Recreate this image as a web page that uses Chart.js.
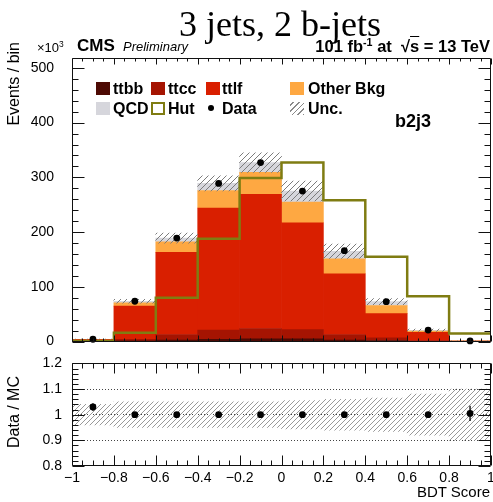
<!DOCTYPE html>
<html>
<head>
<meta charset="utf-8">
<script src="https://cdn.jsdelivr.net/npm/chart.js@4.4.1/dist/chart.umd.min.js"></script>
<style>
  html, body { margin: 0; padding: 0; background: #fff; overflow: hidden; width: 493px; height: 502px; }
  #wrap { position: relative; width: 493px; height: 502px; font-family: "Liberation Sans", Arial, sans-serif; color: #000; }
  #wrap canvas { position: absolute; left: 0; }
  .t { position: absolute; white-space: nowrap; line-height: 1; }
  .b { font-weight: bold; }
  .lg { font-weight: bold; font-size: 16px; }
  .box { position: absolute; width: 14px; height: 13px; box-sizing: border-box; }
  sup { font-size: 0.65em; line-height: 0; vertical-align: 0.55em; }
</style>
</head>
<body>
<div id="wrap">
  <canvas id="mainChart" width="505" height="360" style="top:0"></canvas>
  <canvas id="ratioChart" width="505" height="157" style="top:345px"></canvas>

  <div class="t" style="left:0;width:560px;text-align:center;top:6px;font-family:'Liberation Serif',serif;font-size:36px">3 jets, 2 b-jets</div>
  <div class="t" style="left:37px;top:41px;font-size:13px">&times;10<sup>3</sup></div>
  <div class="t b" style="left:77px;top:37px;font-size:17px">CMS</div>
  <div class="t" style="left:123px;top:40px;font-size:13px;font-style:italic">Preliminary</div>
  <div class="t b" style="right:3px;top:38px;font-size:16.5px">101 fb<sup>-1</sup> at &nbsp;&radic;<span style="text-decoration:overline">s</span> = 13 TeV</div>

  <!-- legend, two rows of four entries -->
  <div class="box" style="left:96px;top:82px;background:#4d0a04"></div>
  <div class="t lg" style="left:113px;top:81px">ttbb</div>
  <div class="box" style="left:151px;top:82px;background:#a51402"></div>
  <div class="t lg" style="left:168px;top:81px">ttcc</div>
  <div class="box" style="left:206px;top:82px;background:#d91f00"></div>
  <div class="t lg" style="left:222px;top:81px">ttlf</div>
  <div class="box" style="left:290px;top:82px;background:#fea842"></div>
  <div class="t lg" style="left:308px;top:81px">Other Bkg</div>

  <div class="box" style="left:96px;top:102px;background:#d6d6dc"></div>
  <div class="t lg" style="left:113px;top:101px">QCD</div>
  <div class="box" style="left:151px;top:102px;border:2px solid #7f7c12"></div>
  <div class="t lg" style="left:168px;top:101px">Hut</div>
  <div style="position:absolute;left:208px;top:105px;width:6px;height:6px;border-radius:3px;background:#000"></div>
  <div class="t lg" style="left:222px;top:101px">Data</div>
  <div class="box" style="left:290px;top:102px;background:repeating-linear-gradient(-45deg,#8a8a8a 0 1px,transparent 1px 4px)"></div>
  <div class="t lg" style="left:308px;top:101px">Unc.</div>

  <div class="t b" style="left:395px;top:112px;font-size:18px">b2j3</div>

  <div class="t" style="left:-86px;top:134px;width:200px;height:16px;font-size:16px;text-align:right;transform:rotate(-90deg)">Events / bin</div>
  <div class="t" style="left:-86px;top:404px;width:200px;height:16px;font-size:16px;text-align:center;transform:rotate(-90deg)">Data / MC</div>
  <div class="t" style="right:3px;top:484px;font-size:15px">BDT Score</div>
</div>

<script>
// bin edges of the BDT score histogram
const binEdges = [-1, -0.8, -0.6, -0.4, -0.2, 0, 0.2, 0.4, 0.6, 0.8, 1];

// stacked backgrounds (events per bin)
const ttbb = [0.2, 1.5, 3, 4, 5, 5, 3, 2, 0.5, 0.05];
const ttcc = [0.6, 2.5, 10, 17, 19, 17, 10, 5, 1.5, 0.15];
const ttlf = [2.8, 60.7, 150, 223, 245, 195, 111, 44, 15, 0.8];
const otherBkg = [0.4, 5.9, 19.4, 32, 40, 38, 27, 15, 2.3, 0.2];
const qcd = [0.2, 3, 6.6, 13, 18, 20, 14, 7, 1.5, 0.1];
const mcUnc = [0.3, 3.5, 9, 14, 18, 18, 13, 5.5, 2.2, 0.2];

// signal shape and observed data
const hut = [1, 16, 80, 188, 299, 327, 258, 155, 83, 15];
const data = [4.3, 73.7, 189, 289, 327, 275, 166, 73, 21, 1.3];

// lower panel
const ratio = [1.03, 1.0, 1.0, 1.0, 1.0, 1.0, 1.0, 1.0, 1.0, 1.005];
const ratioErr = [0.015, 0.003, 0.002, 0.002, 0.002, 0.002, 0.003, 0.004, 0.008, 0.03];
const ratioUnc = [0.04, 0.05, 0.05, 0.05, 0.05, 0.055, 0.06, 0.065, 0.08, 0.1];

const yTicks = [0, 100, 200, 300, 400, 500];
const ratioTicks = [0.8, 0.9, 1, 1.1, 1.2];

const binCenters = binEdges.slice(0, -1).map((e, i) => (e + binEdges[i + 1]) / 2);
const atCenters = arr => arr.map((v, i) => ({ x: binCenters[i], y: v }));

const colors = {
  ttbb: "#4d0a04",
  ttcc: "#a51402",
  ttlf: "#d91f00",
  other: "#fea842",
  qcd: "#d6d6dc",
  hut: "#7f7c12",
};

// "///" hatching used for the uncertainty bands
function hatchPattern(step, color) {
  const c = document.createElement("canvas");
  c.width = step;
  c.height = step;
  const g = c.getContext("2d");
  g.strokeStyle = color;
  g.lineWidth = 1;
  g.beginPath();
  g.moveTo(0, step); g.lineTo(step, 0);
  g.moveTo(-1, 1); g.lineTo(1, -1);
  g.moveTo(step - 1, step + 1); g.lineTo(step + 1, step - 1);
  g.stroke();
  return g.createPattern(c, "repeat");
}

// ROOT style frame: box around the plot area with inward ticks on all sides
const rootFrame = {
  id: "rootFrame",
  afterDatasetsDraw(chart, args, o) {
    const { ctx, chartArea: a, scales } = chart;
    const xs = scales.x, ys = scales.y;
    ctx.save();
    ctx.strokeStyle = "#111";
    ctx.lineWidth = 1;
    const line = (x1, y1, x2, y2) => { ctx.moveTo(x1, y1); ctx.lineTo(x2, y2); };
    ctx.beginPath();
    const L = Math.round(a.left) + 0.5, R = Math.round(a.right) - 0.5;
    const T = Math.round(a.top) + 0.5, B = Math.round(a.bottom) - 0.5;
    ctx.rect(L, T, R - L, B - T);

    const isMajor = (v, step) => Math.abs(v / step - Math.round(v / step)) < 1e-6;
    const nx = Math.floor((xs.max - xs.min) / o.xMinor + 1e-6);
    for (let i = 0; i <= nx; i++) {
      const v = xs.min + i * o.xMinor;
      const len = isMajor(v, o.xMajor) ? o.xLen[0] : o.xLen[1];
      const px = Math.round(xs.getPixelForValue(v)) + 0.5;
      line(px, B, px, B - len);
      line(px, T, px, T + len);
    }
    const ny = Math.floor((ys.max - ys.min) / o.yMinor + 1e-6);
    for (let i = 0; i <= ny; i++) {
      const v = ys.min + i * o.yMinor;
      const len = isMajor(v, o.yMajor) ? o.yLen[0] : o.yLen[1];
      const py = Math.round(ys.getPixelForValue(v)) + 0.5;
      line(L, py, L + len, py);
      line(R, py, R - len, py);
    }
    ctx.stroke();
    ctx.restore();
  },
};

Chart.register(rootFrame);
Chart.defaults.font.family = "'Liberation Sans', Arial, sans-serif";
Chart.defaults.color = "#000";

function stackBar(label, values, color) {
  return {
    type: "bar",
    label: label,
    data: atCenters(values),
    backgroundColor: color,
    borderWidth: 0,
    stack: "mc",
    order: 3,
    barPercentage: 1,
    categoryPercentage: 1,
  };
}

const total = ttbb.map((v, i) => v + ttcc[i] + ttlf[i] + otherBkg[i] + qcd[i]);

// upper panel
new Chart(document.getElementById("mainChart"), {
  type: "bar",
  data: {
    datasets: [
      stackBar("ttbb", ttbb, colors.ttbb),
      stackBar("ttcc", ttcc, colors.ttcc),
      stackBar("ttlf", ttlf, colors.ttlf),
      stackBar("Other Bkg", otherBkg, colors.other),
      stackBar("QCD", qcd, colors.qcd),
      {
        type: "bar",
        label: "Unc.",
        data: total.map((t, i) => ({ x: binCenters[i], y: [t - mcUnc[i], t + mcUnc[i]] })),
        backgroundColor: hatchPattern(6, "#7c7c7c"),
        borderWidth: 0,
        grouped: false,
        stack: "unc",
        order: 2,
        barPercentage: 1,
        categoryPercentage: 1,
      },
      {
        type: "line",
        label: "Hut",
        data: binEdges.map((e, i) => ({ x: e, y: hut[Math.min(i, hut.length - 1)] })),
        borderColor: colors.hut,
        borderWidth: 2.5,
        stepped: "before",
        pointRadius: 0,
        fill: false,
        stack: "hut",
        order: 1,
      },
      {
        type: "line",
        label: "Data",
        data: atCenters(data),
        showLine: false,
        pointRadius: 3.4,
        pointBorderWidth: 0,
        backgroundColor: "#000",
        stack: "data",
        order: 0,
        clip: false,
      },
    ],
  },
  options: {
    responsive: false,
    animation: false,
    events: [],
    layout: { padding: { top: 58, bottom: 16, left: 0, right: 14 } },
    plugins: {
      legend: { display: false },
      tooltip: { enabled: false },
      rootFrame: { xMajor: 0.2, xMinor: 0.05, xLen: [6, 3], yMajor: 100, yMinor: 20, yLen: [12, 6] },
    },
    scales: {
      x: {
        type: "linear",
        min: -1,
        max: 1,
        offset: false,
        stacked: true,
        display: false,
      },
      y: {
        min: 0,
        max: 518,
        stacked: true,
        grid: { display: false },
        border: { display: false },
        afterFit: s => { s.width = 72; },
        afterBuildTicks: s => { s.ticks = yTicks.map(v => ({ value: v })); },
        ticks: { padding: 10, font: { size: 14 }, callback: v => String(v) },
      },
    },
  },
});

// lower panel: data / MC
new Chart(document.getElementById("ratioChart"), {
  type: "bar",
  data: {
    datasets: [
      {
        type: "bar",
        label: "MC unc.",
        data: ratioUnc.map((u, i) => ({ x: binCenters[i], y: [1 - u, 1 + u] })),
        backgroundColor: hatchPattern(5, "#999"),
        borderWidth: 0,
        grouped: false,
        order: 2,
        barPercentage: 1,
        categoryPercentage: 1,
      },
      {
        type: "bar",
        label: "stat. err.",
        data: ratio.map((r, i) => ({ x: binCenters[i], y: [r - ratioErr[i], r + ratioErr[i]] })),
        backgroundColor: "#000",
        borderWidth: 0,
        grouped: false,
        maxBarThickness: 1.3,
        order: 1,
      },
      {
        type: "line",
        label: "Data / MC",
        data: atCenters(ratio),
        showLine: false,
        pointRadius: 3.4,
        pointBorderWidth: 0,
        backgroundColor: "#000",
        order: 0,
        clip: false,
      },
    ],
  },
  options: {
    responsive: false,
    animation: false,
    events: [],
    layout: { padding: { top: 15, bottom: 0, left: 0, right: 14 } },
    plugins: {
      legend: { display: false },
      tooltip: { enabled: false },
      rootFrame: { xMajor: 0.2, xMinor: 0.05, xLen: [10, 5], yMajor: 0.1, yMinor: 0.02, yLen: [12, 6] },
    },
    scales: {
      x: {
        type: "linear",
        min: -1,
        max: 1,
        offset: false,
        grid: { display: false, drawTicks: false },
        border: { display: false },
        afterFit: s => { s.height = 36; },
        ticks: {
          stepSize: 0.2,
          padding: 4,
          maxRotation: 0,
          autoSkip: false,
          font: { size: 14 },
          callback: v => String(Math.round(v * 10) / 10).replace("-", "\u2212"),
        },
      },
      y: {
        min: 0.8,
        max: 1.2,
        grid: {
          drawTicks: false,
          color: c => ([0.9, 1, 1.1].some(v => Math.abs(c.tick.value - v) < 1e-6) ? "#444" : "rgba(0,0,0,0)"),
        },
        border: { display: false, dash: [1, 2] },
        afterFit: s => { s.width = 72; },
        afterBuildTicks: s => { s.ticks = ratioTicks.map(v => ({ value: v })); },
        ticks: { padding: 10, font: { size: 14 }, callback: v => String(Math.round(v * 10) / 10) },
      },
    },
  },
});
</script>
</body>
</html>
